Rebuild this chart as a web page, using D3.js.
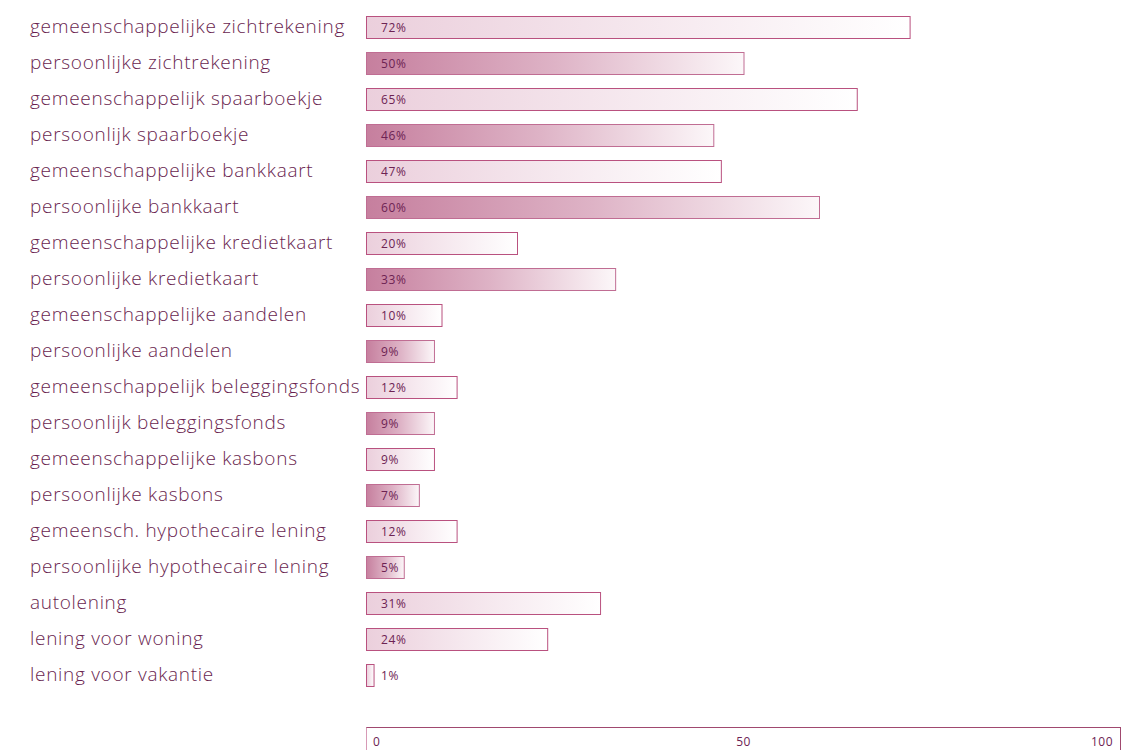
<!DOCTYPE html>
<html>
<head>
<meta charset="utf-8">
<script src="https://cdn.jsdelivr.net/npm/d3@7"></script>
<style>
  html, body { margin: 0; padding: 0; background: #fff; }
  svg { display: block; }
</style>
</head>
<body>
<svg id="chart" width="1131" height="750"></svg>
<script>
// Product categories (top to bottom)
const categories = [
  "gemeenschappelijke zichtrekening",
  "persoonlijke zichtrekening",
  "gemeenschappelijk spaarboekje",
  "persoonlijk spaarboekje",
  "gemeenschappelijke bankkaart",
  "persoonlijke bankkaart",
  "gemeenschappelijke kredietkaart",
  "persoonlijke kredietkaart",
  "gemeenschappelijke aandelen",
  "persoonlijke aandelen",
  "gemeenschappelijk beleggingsfonds",
  "persoonlijk beleggingsfonds",
  "gemeenschappelijke kasbons",
  "persoonlijke kasbons",
  "gemeensch. hypothecaire lening",
  "persoonlijke hypothecaire lening",
  "autolening",
  "lening voor woning",
  "lening voor vakantie"
];
// Share in percent
const values = [72, 50, 65, 46, 47, 60, 20, 33, 10, 9, 12, 9, 9, 7, 12, 5, 31, 24, 1];
// Bar style: "dark" for personal products, "light" otherwise
const kinds = ["light","dark","light","dark","light","dark","light","dark","light","dark",
               "light","dark","light","dark","light","dark","light","light","light"];
const axisTicks = [0, 50, 100];

const svg = d3.select("#chart");
const x = d3.scaleLinear().domain([0, 100]).range([366, 1121]);
const y = d3.scaleBand().domain(categories).range([9, 693]).paddingInner(0.39).paddingOuter(0.2);

const defs = svg.append("defs");
const gradLight = defs.append("linearGradient").attr("id", "gLight")
  .attr("x1", "0").attr("x2", "1").attr("y1", "0").attr("y2", "0");
gradLight.append("stop").attr("offset", "0").attr("stop-color", "#ebcfdc");
gradLight.append("stop").attr("offset", "1").attr("stop-color", "#ffffff");
const gradDark = defs.append("linearGradient").attr("id", "gDark")
  .attr("x1", "0").attr("x2", "1").attr("y1", "0").attr("y2", "0");
gradDark.append("stop").attr("offset", "0").attr("stop-color", "#c67f9e");
gradDark.append("stop").attr("offset", "0.5").attr("stop-color", "#deb3c6");
gradDark.append("stop").attr("offset", "1").attr("stop-color", "#fcf7f9");

const rows = categories.map((c, i) => ({ c, v: values[i], k: kinds[i] }));

// Category labels
svg.append("g").selectAll("text").data(rows).join("text")
  .attr("x", 30)
  .attr("y", d => y(d.c) + y.bandwidth() / 2 - 0.5)
  .attr("dy", "0.35em")
  .attr("fill", "#6a1f50")
  .style("font-family", "'Open Sans', sans-serif")
  .style("font-size", "19px")
  .style("font-weight", "300")
  .style("letter-spacing", "0.7px")
  .text(d => d.c);

// Bars
svg.append("g").selectAll("rect").data(rows).join("rect")
  .attr("x", x(0) + 0.5)
  .attr("y", d => Math.round(y(d.c)) + 0.5)
  .attr("width", d => x(d.v) - x(0))
  .attr("height", 22)
  .attr("fill", d => d.k === "dark" ? "url(#gDark)" : "url(#gLight)")
  .attr("stroke", d => d.k === "dark" ? "#c06d93" : "#b9517f")
  .attr("stroke-width", 1);

// Value labels
svg.append("g").selectAll("text").data(rows).join("text")
  .attr("x", 381)
  .attr("y", d => Math.round(y(d.c)) + 11.5)
  .attr("dy", "0.35em")
  .attr("fill", "#6d2353")
  .style("font-family", "'Open Sans', sans-serif")
  .style("font-size", "12px")
  .style("letter-spacing", "0.6px")
  .text(d => d.v + "%");

// Bottom axis
const ax = svg.append("g").attr("transform", "translate(0,727.5)");
ax.append("line").attr("x1", x(0)).attr("x2", x(100)).attr("stroke", "#a0496f");
ax.selectAll("line.tick").data([0, 100]).join("line").attr("class", "tick")
  .attr("x1", d => x(d) + (d === 0 ? 0.5 : -0.5)).attr("x2", d => x(d) + (d === 0 ? 0.5 : -0.5))
  .attr("y1", 0).attr("y2", 23)
  .attr("stroke", d => d === 0 ? "#d79ab6" : "#a0496f");
ax.selectAll("text").data(axisTicks).join("text")
  .attr("x", d => d === 0 ? x(d) + 7 : d === 100 ? x(d) - 8 : x(d))
  .attr("y", 14.5)
  .attr("dy", "0.35em")
  .attr("text-anchor", d => d === 0 ? "start" : d === 100 ? "end" : "middle")
  .attr("fill", "#6d2353")
  .style("font-family", "'Open Sans', sans-serif")
  .style("font-size", "12px")
  .style("letter-spacing", "0.5px")
  .text(d => d);
</script>
</body>
</html>
